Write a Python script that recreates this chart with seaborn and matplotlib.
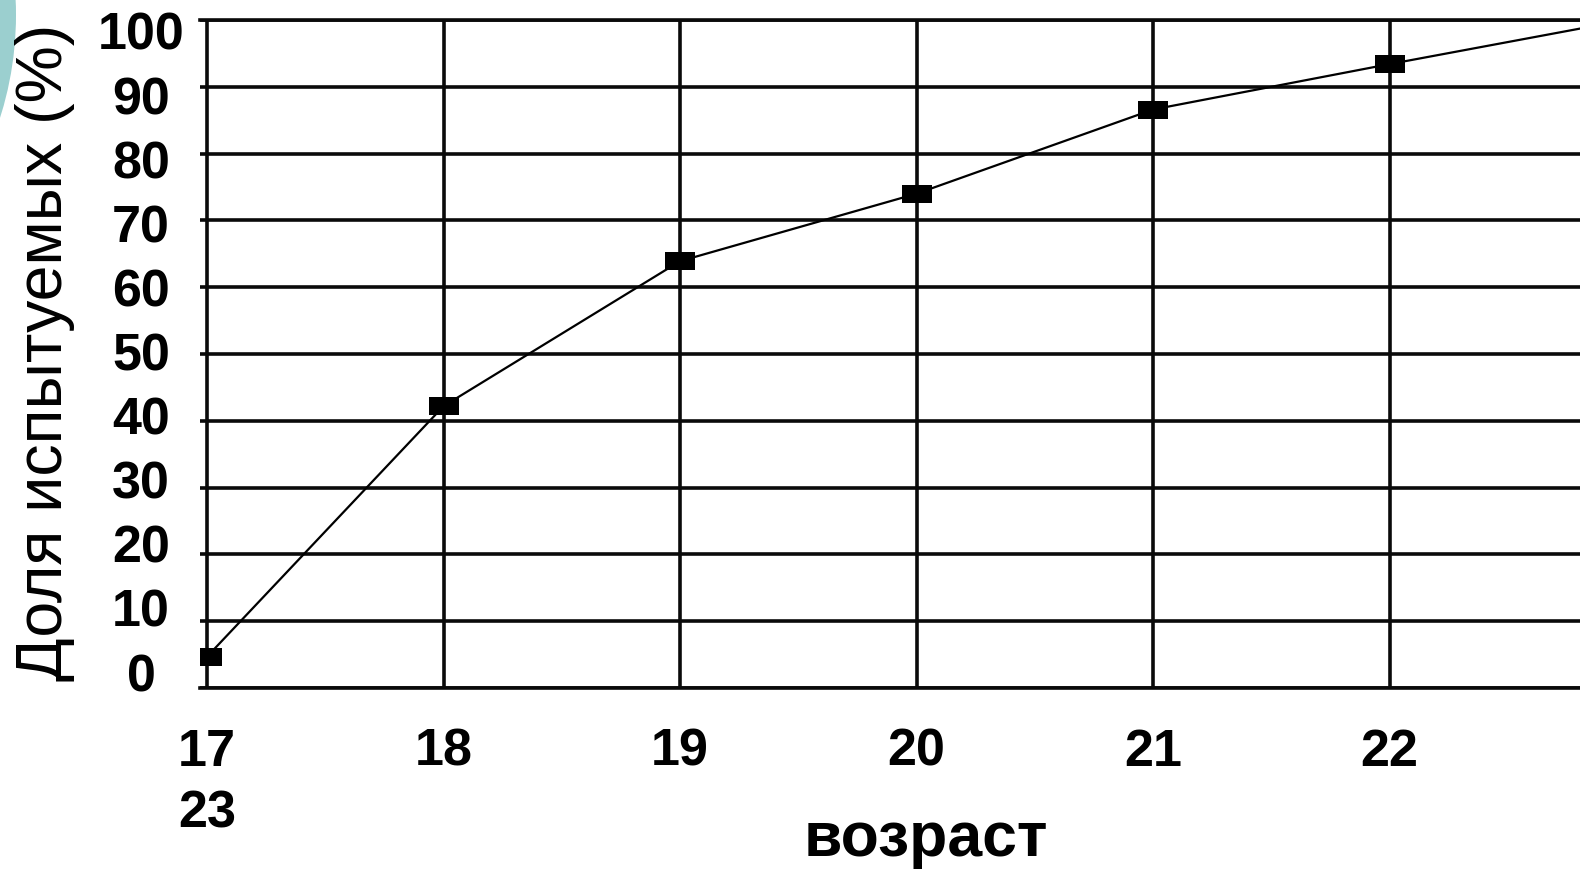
import matplotlib
matplotlib.use("Agg")
import matplotlib.pyplot as plt
import matplotlib.transforms as mtransforms
from matplotlib.patches import Ellipse
from matplotlib.path import Path
import seaborn as sns
import pandas as pd

# ---- data ----
ages = [17, 18, 19, 20, 21, 22, 23]
share = [4.7, 42.2, 63.9, 74.0, 86.6, 93.4, 100.0]
x_ticks = [17, 18, 19, 20, 21, 22]
x_tick_labels = ["17\n23", "18", "19", "20", "21", "22"]
y_ticks = [0, 10, 20, 30, 40, 50, 60, 70, 80, 90, 100]
y_tick_labels = [str(v) for v in y_ticks]
x_title = "возраст"
y_title = "Доля испытуемых (%)"

sns.set_theme(style="white")
plt.rcParams["font.family"] = ["Liberation Sans", "DejaVu Sans"]
plt.rcParams["text.color"] = "black"
plt.rcParams["axes.labelcolor"] = "black"
plt.rcParams["xtick.color"] = "black"
plt.rcParams["ytick.color"] = "black"

W, H = 1580, 872
fig = plt.figure(figsize=(W / 100, H / 100), dpi=100)
fig.patch.set_facecolor("white")

# decorative teal circle at top-left corner
cx, cy, r = -323.5, 15, 339.5
fig.add_artist(Ellipse((cx / W, 1 - cy / H), 2 * r / W, 2 * r / H,
                       transform=fig.transFigure, facecolor="#9bcfcf",
                       edgecolor="none", zorder=0))

ax = fig.add_axes([200 / W, (H - 688) / H, 1380 / W, (688 - 20) / H])
ax.set_facecolor("white")

df = pd.DataFrame({"age": ages, "share": share})
rect = Path([(-1, -0.6), (1, -0.6), (1, 0.6), (-1, 0.6), (-1, -0.6)],
            [Path.MOVETO, Path.LINETO, Path.LINETO, Path.LINETO, Path.CLOSEPOLY])
sns.lineplot(data=df, x="age", y="share", color="black", linewidth=1.6,
             marker=rect, markersize=21, markeredgewidth=0,
             markerfacecolor="black", ax=ax, zorder=5)

x0 = 16.97
ax.set_xlim(x0, x0 + 1380 / 236.5)
ax.set_ylim(0, 100)

ax.set_axisbelow(True)
ax.grid(True, color="#0a0a0a", linewidth=2.6)
for s in ["left", "right"]:
    ax.spines[s].set_visible(False)
for s in ["top", "bottom"]:
    ax.spines[s].set_visible(True)
    ax.spines[s].set_color("#0a0a0a")
    ax.spines[s].set_linewidth(2.6)

ax.set_xticks(x_ticks)
ax.set_xticklabels(x_tick_labels, fontsize=37.5, fontweight="bold", color="black")
ax.set_yticks(y_ticks)
ax.set_yticklabels(y_tick_labels, fontsize=37.5, fontweight="bold", color="black")
ax.tick_params(axis="both", length=0)
ax.tick_params(axis="x", pad=28.5)
ax.tick_params(axis="y", pad=42.5)

ax.set_xlabel(x_title, fontsize=45, fontweight="bold", color="black")
ax.xaxis.set_label_coords((926 - 200) / 1380, (688 - 856) / 668)
ax.xaxis.label.set_verticalalignment("baseline")

ax.set_ylabel(y_title, fontsize=46.4, color="black")
ax.yaxis.set_label_coords((62 - 200) / 1380, 0.503)
ax.yaxis.label.set_verticalalignment("baseline")

fig.canvas.draw()
for lab in ax.get_xticklabels():
    lab.set_linespacing(1.33)
for lab, v in zip(ax.get_yticklabels(), y_ticks):
    lab.set_horizontalalignment("center")
    shift_px = 11 - 0.27 * (100 - v)
    lab.set_transform(lab.get_transform() +
                      mtransforms.ScaledTranslation(0, -shift_px / 100, fig.dpi_scale_trans))

fig.savefig("out.png", dpi=100, facecolor="white")
